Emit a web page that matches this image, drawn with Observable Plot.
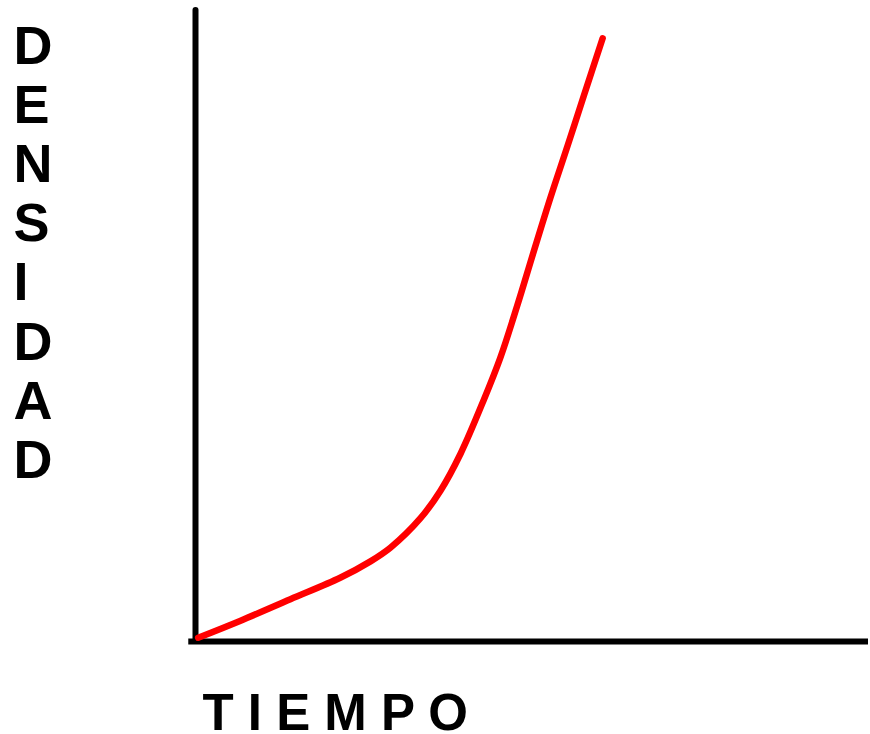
<!DOCTYPE html>
<html>
<head>
<meta charset="utf-8">
<script src="https://cdn.jsdelivr.net/npm/d3@7"></script>
<script src="https://cdn.jsdelivr.net/npm/@observablehq/plot@0.6"></script>
<style>
  html, body { margin: 0; padding: 0; background: #ffffff; }
</style>
</head>
<body>
<div id="chart"></div>
<script>
// Time (x) and density (y) values
const tiempo   = [0.4, 6.7, 14.1, 21.5, 26.0, 29.0, 33.4, 36.4, 39.4, 42.8, 45.3, 47.8, 50.2, 52.7, 55.3, 57.7, 60.5];
const densidad = [0.6, 3.3, 6.7, 10.1, 12.7, 14.9, 19.5, 23.9, 29.8, 38.2, 45.0, 53.2, 61.6, 70.2, 78.6, 86.5, 95.6];
const yLabel = "DENSIDAD";
const xLabel = "TIEMPO";

const data = tiempo.map((t, i) => ({t, d: densidad[i]}));

const chart = Plot.plot({
  width: 870,
  height: 734,
  marginLeft: 195,
  marginRight: 2,
  marginTop: 10,
  marginBottom: 93,
  x: {domain: [0, 100], axis: null},
  y: {domain: [0, 100], axis: null},
  style: {background: "#ffffff", fontFamily: "'Liberation Sans', Arial, sans-serif"},
  marks: [
    Plot.ruleX([0], {stroke: "#000", strokeWidth: 6, strokeLinecap: "round"}),
    Plot.ruleY([0], {stroke: "#000", strokeWidth: 6, x1: -1, x2: 100}),
    Plot.line(data, {x: "t", y: "d", stroke: "#ff0000", strokeWidth: 6.5, curve: "catmull-rom", strokeLinecap: "round", strokeLinejoin: "round"}),
    Plot.text([yLabel.split("").join("\n")], {
      frameAnchor: "top-left", textAnchor: "start", lineAnchor: "top",
      dx: -182, dy: 12, fontSize: 54, fontWeight: "bold", lineHeight: 1.093, fill: "#000"
    }),
    Plot.text([xLabel.split("").join(" ")], {
      frameAnchor: "bottom-left", textAnchor: "start", lineAnchor: "bottom",
      dx: 7, dy: 88, fontSize: 51, fontWeight: "bold", fill: "#000"
    })
  ]
});
document.getElementById("chart").appendChild(chart);
</script>
</body>
</html>
